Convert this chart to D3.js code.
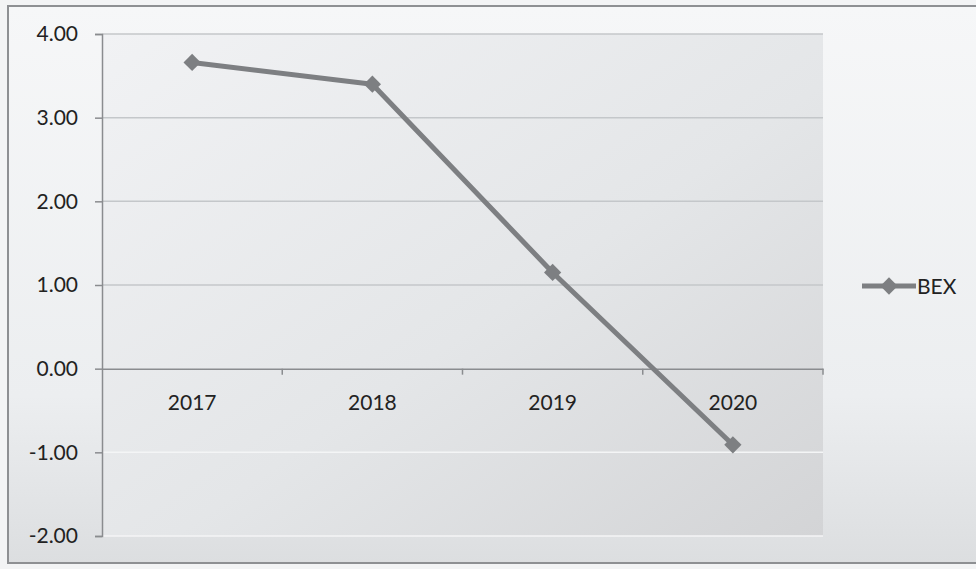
<!DOCTYPE html>
<html>
<head>
<meta charset="utf-8">
<script src="https://cdn.jsdelivr.net/npm/d3@7"></script>
<style>
  body { margin: 0; background: #f3f4f5; }
  text { font-family: Lato, "Open Sans", sans-serif; fill: #222; }
</style>
</head>
<body>
<div id="chart"></div>
<script>
// data
const years = ["2017", "2018", "2019", "2020"];
const bex = [3.66, 3.40, 1.15, -0.91];
const yTicks = [-2, -1, 0, 1, 2, 3, 4];
const seriesName = "BEX";

const width = 976;
const height = 569;
const margin = { top: 34, right: 153, bottom: 33, left: 102 };

const svg = d3
  .select("#chart")
  .append("svg")
  .attr("width", width)
  .attr("height", height);

// gradients (scanned look)
const defs = svg.append("defs");
const outerGrad = defs.append("linearGradient").attr("id", "outerGrad")
  .attr("x1", 0).attr("y1", 0).attr("x2", 0).attr("y2", 1);
outerGrad.append("stop").attr("offset", "0%").attr("stop-color", "#f6f7f8");
outerGrad.append("stop").attr("offset", "70%").attr("stop-color", "#eceef0");
outerGrad.append("stop").attr("offset", "100%").attr("stop-color", "#dcdee0");

const plotGrad = defs.append("linearGradient").attr("id", "plotGrad")
  .attr("x1", 0).attr("y1", 0).attr("x2", 1).attr("y2", 1);
plotGrad.append("stop").attr("offset", "0%").attr("stop-color", "#f1f2f4");
plotGrad.append("stop").attr("offset", "55%").attr("stop-color", "#e4e6e8");
plotGrad.append("stop").attr("offset", "100%").attr("stop-color", "#d3d4d6");

// chart frame
svg.append("rect")
  .attr("x", 8).attr("y", 6)
  .attr("width", width).attr("height", 557)
  .attr("fill", "url(#outerGrad)")
  .attr("stroke", "#8e9093")
  .attr("stroke-width", 2);

const x = d3
  .scaleBand()
  .domain(years)
  .range([margin.left, width - margin.right]);

const y = d3
  .scaleLinear()
  .domain([-2, 4])
  .range([height - margin.bottom, margin.top]);

// plot area
svg.append("rect")
  .attr("x", margin.left)
  .attr("y", margin.top)
  .attr("width", x.range()[1] - margin.left)
  .attr("height", y(-2) - y(4))
  .attr("fill", "url(#plotGrad)");

// gridlines
svg.append("g")
  .selectAll("line")
  .data(yTicks.filter((d) => d !== 0))
  .join("line")
  .attr("x1", margin.left)
  .attr("x2", x.range()[1])
  .attr("y1", (d) => y(d))
  .attr("y2", (d) => y(d))
  .attr("stroke", (d) => (d < 0 ? "#f4f5f6" : "#c4c7ca"))
  .attr("stroke-width", 1.5);

// y axis, hyphen minus like Excel
const fmt = (d) => d3.format(".2f")(d).replace("\u2212", "-");
const yAxis = svg.append("g")
  .attr("transform", `translate(${margin.left},0)`)
  .call(d3.axisLeft(y).tickValues(yTicks).tickFormat(fmt).tickSize(7).tickPadding(17));
yAxis.select(".domain").attr("stroke", "#8a8c8f").attr("stroke-width", 1.5);
yAxis.selectAll(".tick line").attr("stroke", "#8a8c8f").attr("stroke-width", 1.5);
yAxis.selectAll("text").style("font-size", "21px").attr("fill", "#222");

// x axis at zero
const xAxis = svg.append("g")
  .attr("transform", `translate(0,${y(0)})`)
  .call(d3.axisBottom(x).tickSize(0).tickPadding(26));
xAxis.select(".domain").attr("stroke", "#8a8c8f").attr("stroke-width", 1.5);
xAxis.selectAll("text").style("font-size", "21px").attr("fill", "#222");

// category tick marks between bands
svg.append("g")
  .selectAll("line")
  .data(years.slice(1).concat(["end"]))
  .join("line")
  .attr("x1", (d, i) => x(years[0]) + x.bandwidth() * (i + 1))
  .attr("x2", (d, i) => x(years[0]) + x.bandwidth() * (i + 1))
  .attr("y1", y(0))
  .attr("y2", y(0) + 6)
  .attr("stroke", "#8a8c8f")
  .attr("stroke-width", 1.5);

// series line
const line = d3
  .line()
  .x((d, i) => x(years[i]) + x.bandwidth() / 2)
  .y((d) => y(d));

svg.append("path")
  .datum(bex)
  .attr("d", line)
  .attr("fill", "none")
  .attr("stroke", "#7d7f82")
  .attr("stroke-width", 5)
  .attr("stroke-linejoin", "round");

const diamond = d3.symbol().type(d3.symbolDiamond2).size(190);

svg.append("g")
  .selectAll("path")
  .data(bex)
  .join("path")
  .attr("d", diamond)
  .attr("transform", (d, i) => `translate(${x(years[i]) + x.bandwidth() / 2},${y(d)})`)
  .attr("fill", "#7d7f82");

// legend
const legend = svg.append("g").attr("transform", "translate(862,286)");
legend.append("line")
  .attr("x1", 0).attr("x2", 54)
  .attr("y1", 0).attr("y2", 0)
  .attr("stroke", "#7d7f82")
  .attr("stroke-width", 5);
legend.append("path")
  .attr("d", diamond)
  .attr("transform", "translate(27,0)")
  .attr("fill", "#7d7f82");
legend.append("text")
  .attr("x", 55)
  .attr("y", 8)
  .style("font-size", "21px")
  .text(seriesName);
</script>
</body>
</html>
